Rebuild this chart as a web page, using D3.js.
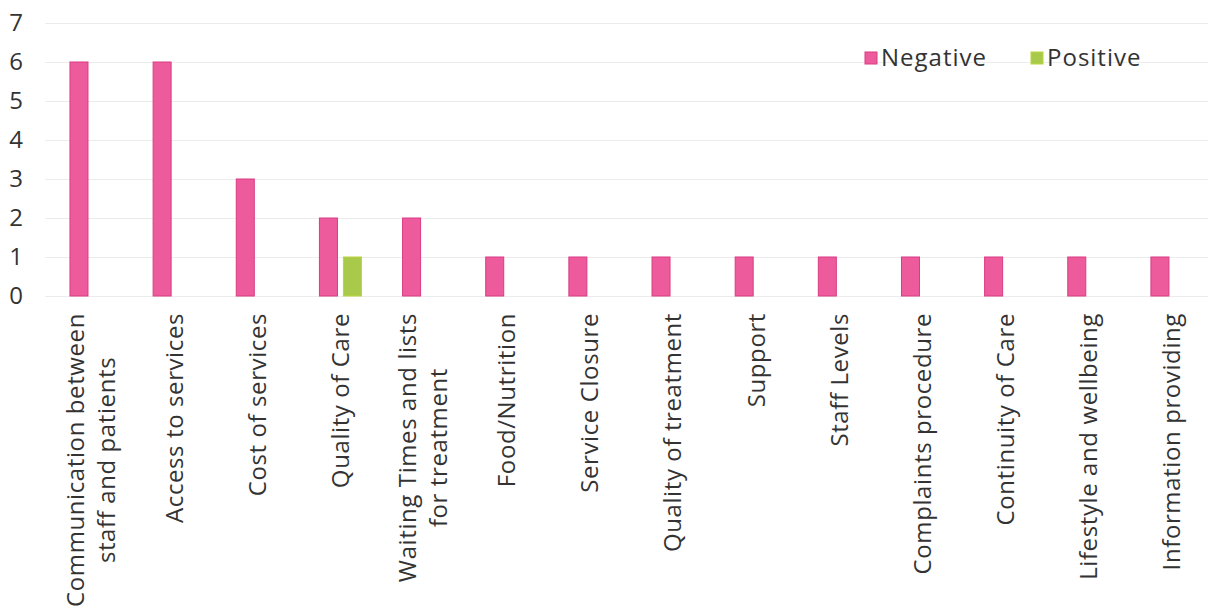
<!DOCTYPE html>
<html>
<head>
<meta charset="utf-8">
<script src="https://cdn.jsdelivr.net/npm/d3@7"></script>
<style>
  body { margin: 0; background: #fff; }
  text { font-family: "Open Sans", sans-serif; fill: #333; }
  .grid line { stroke: #ececec; stroke-width: 1; }
</style>
</head>
<body>
<script>
// Width and height
var w = 1208;
var h = 609;

// data
var categories = [
  "Communication between|staff and patients",
  "Access to services",
  "Cost of services",
  "Quality of Care",
  "Waiting Times and lists|for treatment",
  "Food/Nutrition",
  "Service Closure",
  "Quality of treatment",
  "Support",
  "Staff Levels",
  "Complaints procedure",
  "Continuity of Care",
  "Lifestyle and wellbeing",
  "Information providing"
];
var negative = [6, 6, 3, 2, 2, 1, 1, 1, 1, 1, 1, 1, 1, 1];
var positive = [0, 0, 0, 1, 0, 0, 0, 0, 0, 0, 0, 0, 0, 0];
var seriesNames = ["Negative", "Positive"];
var seriesColors = ["#ee5b9c", "#a9c94b"];
var seriesStroke = ["#d93b83", "#bcd43a"];
var yTicks = [0, 1, 2, 3, 4, 5, 6, 7];

var svg = d3.select("body").append("svg")
  .attr("width", w)
  .attr("height", h);

var xScale = d3.scaleBand()
  .domain(categories)
  .range([49.4, 1213.5]);

var subScale = d3.scaleBand()
  .domain(seriesNames)
  .range([-21, 21])
  .paddingInner(0.25);

var yScale = d3.scaleLinear()
  .domain([0, 7])
  .range([296, 23]);

// gridlines
svg.append("g")
  .attr("class", "grid")
  .selectAll("line")
  .data(yTicks)
  .enter().append("line")
  .attr("x1", 45)
  .attr("x2", w)
  .attr("y1", function(d) { return Math.round(yScale(d)) + 0.5; })
  .attr("y2", function(d) { return Math.round(yScale(d)) + 0.5; });

// y axis (labels only)
var yAxis = d3.axisLeft(yScale)
  .tickValues(yTicks)
  .tickFormat(d3.format("d"))
  .tickSize(0)
  .tickPadding(0);
var gy = svg.append("g")
  .attr("transform", "translate(23,0)")
  .call(yAxis);
gy.select(".domain").remove();
gy.selectAll("text")
  .style("font-family", "'Open Sans', sans-serif")
  .style("font-size", "24px")
  .style("fill", "#333")
  .attr("text-anchor", "end");

// bars
var rows = categories.map(function(c, i) {
  return { cat: c, values: [negative[i], positive[i]] };
});

var groups = svg.selectAll(".group")
  .data(rows)
  .enter().append("g")
  .attr("class", "group")
  .attr("transform", function(d) {
    return "translate(" + (xScale(d.cat) + xScale.bandwidth() / 2) + ",0)";
  });

groups.selectAll("rect")
  .data(function(d) {
    return d.values.map(function(v, j) { return { name: seriesNames[j], j: j, v: v }; });
  })
  .enter().filter(function(d) { return d.v > 0; })
  .append("rect")
  .attr("x", function(d) { return subScale(d.name); })
  .attr("width", subScale.bandwidth())
  .attr("y", function(d) { return yScale(d.v); })
  .attr("height", function(d) { return yScale(0) - yScale(d.v); })
  .attr("fill", function(d) { return seriesColors[d.j]; })
  .attr("stroke", function(d) { return seriesStroke[d.j]; })
  .attr("stroke-width", 1);

// category labels (rotated, multi-line centred)
var labelTop = 313;
var lineGap = 31;
groups.each(function(d) {
  var lines = d.cat.split("|");
  var g = d3.select(this).append("g");
  var texts = g.selectAll("text")
    .data(lines)
    .enter().append("text")
    .attr("text-anchor", "middle")
    .attr("x", 0)
    .attr("y", function(l, i) { return (i - (lines.length - 1) / 2) * lineGap; })
    .attr("dy", "0.35em")
    .style("font-size", "24px")
    .style("letter-spacing", "0.6px")
    .text(function(l) { return l; });
  var maxW = 0;
  texts.each(function() { maxW = Math.max(maxW, this.getComputedTextLength()); });
  g.attr("transform", "translate(0," + (labelTop + maxW / 2) + ") rotate(-90)");
});

// legend
var legendX = [865, 1031];
var legend = svg.selectAll(".legend")
  .data(seriesNames)
  .enter().append("g")
  .attr("class", "legend")
  .attr("transform", function(d, i) { return "translate(" + legendX[i] + ",52)"; });

legend.append("rect")
  .attr("width", 12)
  .attr("height", 12)
  .attr("fill", function(d, i) { return seriesColors[i]; })
  .attr("stroke", function(d, i) { return seriesStroke[i]; });

legend.append("text")
  .attr("x", 16)
  .attr("y", 6)
  .attr("dy", "0.35em")
  .style("font-size", "24px")
  .style("letter-spacing", "1px")
  .text(function(d) { return d; });
</script>
</body>
</html>
